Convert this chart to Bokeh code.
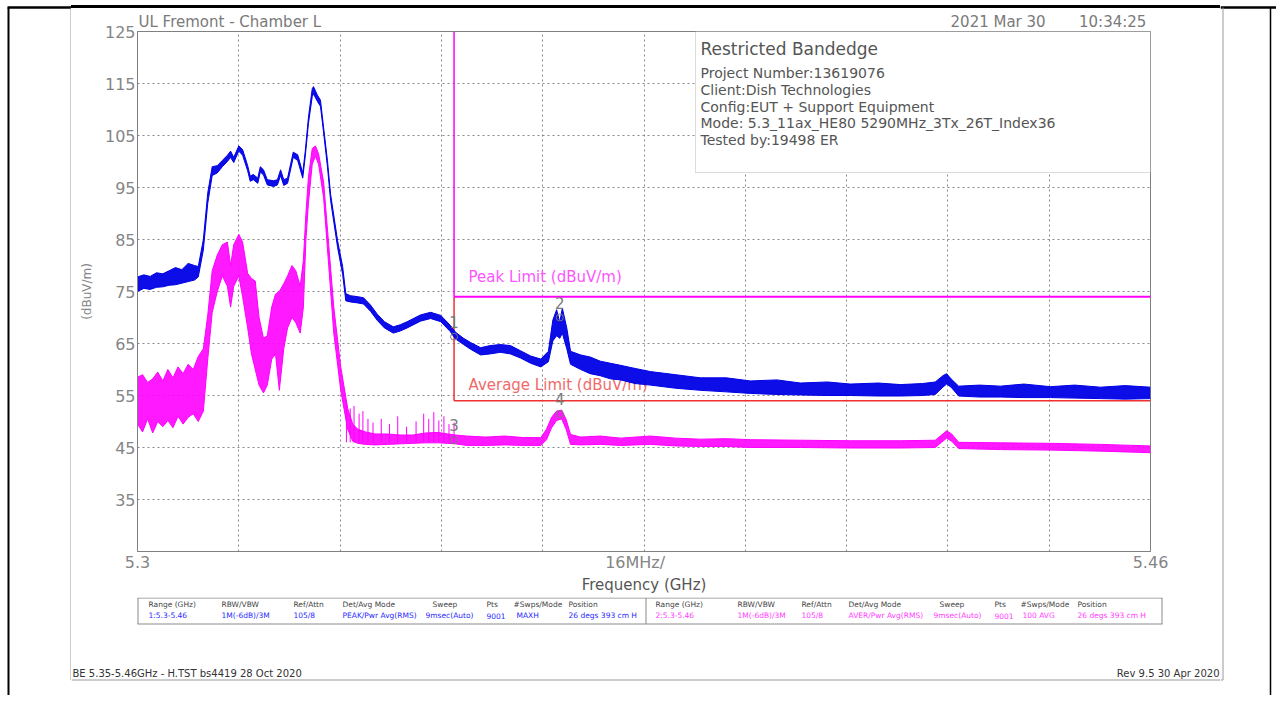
from bokeh.plotting import figure
from bokeh.models import Range1d, FixedTicker, Label, PolyAnnotation, Div
from bokeh.core.properties import value
from bokeh.layouts import column, row
from bokeh.embed import file_html
from bokeh.resources import INLINE

FONT = "DejaVu Sans"

# ---------------- data ----------------
# Peak trace (blue): frequency (GHz) with lower / upper edge of the noisy trace (dBuV/m)
peak_freq = [5.3000, 5.3010, 5.3020, 5.3030, 5.3040, 5.3050, 5.3060, 5.3070, 5.3080, 5.3090,
             5.3096, 5.3104, 5.3111, 5.3118, 5.3126, 5.3134, 5.3142, 5.3147, 5.3152, 5.3160,
             5.3166, 5.3174, 5.3178, 5.3183, 5.3190, 5.3194, 5.3199, 5.3205, 5.3215, 5.3221,
             5.3226, 5.3231, 5.3237, 5.3246, 5.3253, 5.3261, 5.3265, 5.3270, 5.3276, 5.3278,
             5.3284, 5.3289, 5.3294, 5.3300, 5.3305, 5.3316, 5.3324, 5.3329, 5.3336, 5.3348,
             5.3357, 5.3368, 5.3379, 5.3390, 5.3404, 5.3415, 5.3426, 5.3447, 5.3463, 5.3479,
             5.3494, 5.3502, 5.3515, 5.3526, 5.3542, 5.3557, 5.3573, 5.3589, 5.3605, 5.3621,
             5.3637, 5.3649, 5.3656, 5.3662, 5.3667, 5.3671, 5.3678, 5.3684, 5.3700, 5.3715,
             5.3731, 5.3747, 5.3763, 5.3786, 5.3810, 5.3850, 5.3889, 5.3930, 5.3968, 5.4010,
             5.4047, 5.4090, 5.4126, 5.4170, 5.4205, 5.4240, 5.4260, 5.4272, 5.4278, 5.4285,
             5.4297, 5.4330, 5.4363, 5.4400, 5.4442, 5.4480, 5.4521, 5.4560, 5.4600]
peak_low = [75.0, 75.6, 75.4, 75.8, 75.9, 76.2, 76.3, 76.6, 76.9, 77.2,
            77.8, 83.0, 92.0, 97.3, 97.8, 99.0, 100.0, 100.8, 99.8, 102.0,
            101.2, 98.2, 96.2, 96.5, 95.8, 98.0, 97.4, 95.5, 95.2, 95.5,
            97.3, 95.4, 95.8, 100.8, 100.2, 96.8, 101.0, 107.3, 112.5, 113.0,
            111.6, 110.6, 105.5, 99.0, 92.5, 83.5, 78.3, 73.2, 73.0, 72.8,
            72.6, 71.2, 69.4, 68.0, 67.0, 67.4, 68.0, 69.3, 69.8, 69.2,
            67.3, 65.9, 64.8, 63.9, 62.8, 63.0, 63.3, 63.0, 62.2, 61.2,
            60.5, 61.5, 65.5, 66.5, 66.0, 67.0, 64.0, 61.0, 60.0, 59.2,
            58.8, 58.2, 58.0, 57.3, 57.0, 56.4, 56.0, 55.7, 55.4, 55.2,
            55.1, 55.0, 55.0, 54.9, 54.9, 55.0, 55.2, 56.6, 57.2, 56.6,
            54.9, 54.7, 54.7, 54.6, 54.6, 54.5, 54.4, 54.3, 54.4]
peak_high = [77.8, 78.2, 77.9, 78.6, 78.4, 79.0, 79.6, 79.2, 80.4, 80.0,
             79.8, 85.0, 94.0, 99.0, 99.2, 100.2, 101.2, 102.0, 100.8, 103.0,
             102.3, 99.2, 97.2, 97.5, 96.8, 99.0, 98.4, 96.5, 96.3, 96.5,
             98.4, 96.5, 96.8, 101.8, 101.3, 97.8, 102.0, 108.5, 114.0, 114.4,
             112.8, 111.8, 106.5, 100.2, 93.7, 84.8, 79.8, 74.6, 74.2, 74.0,
             73.8, 72.4, 70.6, 69.2, 68.2, 68.6, 69.2, 70.5, 71.0, 70.4,
             68.5, 67.2, 66.0, 65.2, 64.2, 64.6, 64.8, 64.6, 63.6, 62.6,
             62.0, 63.5, 69.5, 71.5, 69.0, 71.8, 68.0, 63.5, 62.8, 62.4,
             61.6, 61.2, 60.8, 60.2, 59.6, 59.0, 58.4, 58.4, 57.8, 58.0,
             57.4, 57.6, 57.2, 57.4, 57.1, 57.3, 57.6, 58.8, 59.2, 58.2,
             56.8, 57.0, 56.8, 57.2, 56.7, 57.0, 56.6, 56.9, 56.6]

# Average trace (magenta)
avg_freq = [5.3000, 5.3008, 5.3016, 5.3024, 5.3032, 5.3040, 5.3048, 5.3056, 5.3064, 5.3072,
            5.3080, 5.3088, 5.3096, 5.3104, 5.3111, 5.3118, 5.3126, 5.3134, 5.3142, 5.3147,
            5.3152, 5.3160, 5.3166, 5.3174, 5.3180, 5.3186, 5.3192, 5.3199, 5.3205, 5.3212,
            5.3218, 5.3224, 5.3231, 5.3237, 5.3244, 5.3250, 5.3257, 5.3262, 5.3266, 5.3270,
            5.3276, 5.3281, 5.3286, 5.3294, 5.3302, 5.3310, 5.3321, 5.3332, 5.3340, 5.3348,
            5.3360, 5.3375, 5.3395, 5.3415, 5.3435, 5.3455, 5.3475, 5.3490, 5.3502, 5.3520,
            5.3550, 5.3580, 5.3610, 5.3637, 5.3646, 5.3654, 5.3662, 5.3670, 5.3677, 5.3684,
            5.3700, 5.3731, 5.3763, 5.3810, 5.3850, 5.3889, 5.3930, 5.3968, 5.4047, 5.4126,
            5.4205, 5.4260, 5.4270, 5.4278, 5.4286, 5.4297, 5.4363, 5.4442, 5.4521, 5.4600]
avg_low = [49.5, 48.0, 50.5, 47.8, 50.0, 49.0, 50.2, 48.8, 51.0, 49.5,
           50.8, 51.5, 50.0, 52.0, 62.0, 71.0, 75.0, 78.0, 76.0, 72.0,
           76.0, 78.0, 74.0, 68.0, 63.0, 60.0, 57.0, 55.5, 57.0, 62.0,
           63.0, 56.0, 64.0, 68.0, 70.0, 69.0, 67.0, 72.0, 85.0, 92.0,
           99.5, 101.0, 99.5, 93.0, 80.0, 67.0, 56.0, 48.5, 46.2, 45.8,
           45.6, 45.5, 45.6, 45.7, 45.8, 45.9, 45.9, 45.8, 45.7, 45.4,
           45.4, 45.5, 45.4, 45.4, 46.5, 48.8, 50.2, 50.5, 48.5, 45.6,
           45.5, 45.6, 45.4, 45.6, 45.3, 45.2, 45.2, 45.0, 45.0, 44.9,
           44.9, 45.0, 46.0, 46.8, 46.2, 44.8, 44.6, 44.5, 44.3, 44.0]
avg_high = [58.5, 59.0, 57.5, 58.2, 59.5, 57.8, 60.0, 58.4, 60.5, 59.2,
            61.0, 60.0, 62.5, 64.0, 70.5, 79.0, 82.0, 84.0, 84.5, 80.0,
            84.0, 86.0, 84.5, 78.5, 77.5, 77.0, 70.0, 66.0, 66.5, 72.0,
            74.5, 75.0, 76.5, 78.0, 80.0, 79.0, 76.0, 81.0, 90.0, 97.0,
            102.5, 103.0, 101.5, 96.0, 84.0, 72.0, 60.5, 52.5, 49.5, 48.5,
            48.0, 47.6, 47.6, 47.4, 47.4, 47.8, 47.9, 47.6, 47.4, 47.2,
            47.0, 47.2, 46.9, 46.9, 48.5, 50.8, 52.0, 52.2, 50.4, 47.5,
            47.0, 47.2, 46.8, 47.2, 46.8, 46.6, 46.7, 46.5, 46.4, 46.3,
            46.3, 46.4, 47.4, 48.2, 47.6, 46.0, 45.9, 45.8, 45.6, 45.3]

# Isolated spikes of the average trace just above the 5.35 GHz edge
avg_spike_freq = [5.3330, 5.3336, 5.3342, 5.3350, 5.3356, 5.3364, 5.3372, 5.3385, 5.3398, 5.3411,
                  5.3425, 5.3440, 5.3452, 5.3460, 5.3468, 5.3476, 5.3484, 5.3492, 5.3500]
avg_spike_base = [46.0, 46.0, 46.0, 46.0, 46.0, 46.0, 46.0, 46.0, 46.0, 46.0,
                  46.0, 46.0, 46.0, 46.0, 46.0, 46.0, 46.0, 46.0, 46.0]
avg_spike_top = [54.0, 52.5, 53.0, 51.5, 52.0, 50.5, 49.8, 50.5, 49.5, 51.0,
                 49.0, 50.0, 51.5, 50.5, 51.8, 50.2, 51.0, 49.5, 49.8]

# Limits
limit_freq = [5.35, 5.46]
peak_limit = [74, 74]
avg_limit = [54, 54]
edge_freq = [5.35, 5.35]
edge_peak_span = [125, 74]
edge_avg_span = [74, 54]

# Markers
marker_ids = ["1", "2", "3", "4"]
marker_freq = [5.35, 5.3667, 5.35, 5.3667]
marker_level = [66.3, 70.0, 46.4, 51.4]

# Axes
y_tick_values = [35, 45, 55, 65, 75, 85, 95, 105, 115, 125]
x_tick_values = [5.3, 5.3786, 5.46]
x_tick_labels = {5.3: "5.3", 5.3786: "16MHz/", 5.46: "5.46"}
x_grid_values = [5.316, 5.332, 5.348, 5.364, 5.38, 5.396, 5.412, 5.428, 5.444]

# Header texts
title_text = "UL Fremont - Chamber L"
date_text = "2021 Mar 30"
time_text = "10:34:25"

# ---------------- page geometry (pixels) ----------------
PAGE_W, PAGE_H = 1276, 695
LEFT_W = 71          # left strip x 0..71
RIGHT_X = 1220       # right strip x 1220..PAGE_W
TOPLINE_H = 10       # thin strip with the top black rule
MID_B = 597          # main chart y TOPLINE_H..597
FX0, FX1 = 137, 1150
FY0, FY1 = 31, 551
XMIN, XMAX = 5.3, 5.46
YMIN, YMAX = 25, 125
GRAY_FRAME = "#9a9a9a"


def dx(px):
    return XMIN + (px - FX0) * (XMAX - XMIN) / (FX1 - FX0)


def dy(py):
    return YMAX - (py - FY0) * (YMAX - YMIN) / (FY1 - FY0)


def strip(x0, x1, y0, y1):
    f = figure(width=x1 - x0, height=y1 - y0, x_range=Range1d(x0, x1), y_range=Range1d(y1, y0),
               x_axis_type=None, y_axis_type=None, title=None, output_backend="svg",
               toolbar_location=None, min_border=0)
    f.outline_line_color = None
    f.background_fill_color = "white"
    f.border_fill_color = "white"
    return f


def txt(f, px, py, text, size, color, align="left"):
    f.text(x=[px], y=[py], text=[text], text_font=value(FONT), text_font_size=f"{size}px",
           text_color=color, text_align=align, text_baseline="middle")


def ln(f, x0, y0, x1, y1, color, width=1):
    f.line(x=[x0, x1], y=[y0, y1], line_color=color, line_width=width)


# ---------------- main chart ----------------
NB = "\u00a0"
header = title_text + NB * 132 + date_text + NB * 7 + time_text
p = figure(width=RIGHT_X - LEFT_W, height=MID_B - TOPLINE_H,
           x_range=Range1d(XMIN, XMAX), y_range=Range1d(YMIN, YMAX),
           title=header, output_backend="svg", toolbar_location=None, min_border=0,
           min_border_left=FX0 - LEFT_W, min_border_right=RIGHT_X - FX1,
           min_border_top=FY0 - TOPLINE_H, min_border_bottom=MID_B - FY1)
p.title.align = "left"
p.title.offset = 1
p.title.standoff = 1
p.title.text_font = FONT
p.title.text_font_size = "15px"
p.title.text_font_style = "normal"
p.title.text_color = "#7a7a7a"
p.background_fill_color = "white"
p.border_fill_color = "white"
p.outline_line_color = "#808080"

GRAY = "#858585"
p.xaxis.ticker = FixedTicker(ticks=x_tick_values)
p.xaxis.major_label_overrides = x_tick_labels
p.yaxis.ticker = FixedTicker(ticks=y_tick_values)
for ax in (p.xaxis[0], p.yaxis[0]):
    ax.major_tick_line_color = None
    ax.minor_tick_line_color = None
    ax.major_tick_out = 0
    ax.major_tick_in = 0
    ax.minor_tick_out = 0
    ax.axis_line_color = "#808080"
    ax.major_label_text_font = FONT
    ax.major_label_text_color = GRAY
    ax.major_label_standoff = 1
    ax.axis_label_text_font = FONT
    ax.axis_label_text_font_style = "normal"
p.xaxis.major_label_text_font_size = "16px"
p.yaxis.major_label_text_font_size = "16px"
p.yaxis.major_label_standoff = 2
p.xaxis.axis_label = "Frequency (GHz)"
p.xaxis.axis_label_text_font_size = "15px"
p.xaxis.axis_label_text_color = "#555555"
p.xaxis.axis_label_standoff = 1
p.yaxis.axis_label = "(dBuV/m)"
p.yaxis.axis_label_text_font_size = "12px"
p.yaxis.axis_label_text_color = GRAY
p.yaxis.axis_label_standoff = 8

p.xgrid.ticker = FixedTicker(ticks=x_grid_values)
p.ygrid.ticker = FixedTicker(ticks=y_tick_values)
for g in (p.xgrid[0], p.ygrid[0]):
    g.grid_line_color = "#8a8a8a"
    g.grid_line_dash = "2 3"
    g.grid_line_width = 1

MAG = "#ff00ff"
BLUE = "#0000e6"
RED = "#f03030"

p.line(limit_freq, avg_limit, line_color=RED, line_width=1.5)
p.line(edge_freq, edge_avg_span, line_color=RED, line_width=1.5)
p.text(x=[dx(468)], y=[dy(384)], text=["Average Limit (dBuV/m)"], text_font=value(FONT),
       text_font_size="15px", text_color="#f06a6a", text_baseline="middle", text_align="left")
p.text(x=[dx(468)], y=[dy(276)], text=["Peak Limit (dBuV/m)"], text_font=value(FONT),
       text_font_size="15px", text_color="#ff55ff", text_baseline="middle", text_align="left")

p.varea(x=avg_freq, y1=avg_low, y2=avg_high, fill_color=MAG, fill_alpha=0.9)
p.line(avg_freq, avg_low, line_color=MAG, line_width=1)
p.line(avg_freq, avg_high, line_color=MAG, line_width=1)
p.segment(x0=avg_spike_freq, y0=avg_spike_base, x1=avg_spike_freq, y1=avg_spike_top,
          line_color=MAG, line_width=1)

p.varea(x=peak_freq, y1=peak_low, y2=peak_high, fill_color=BLUE, fill_alpha=0.95)
p.line(peak_freq, peak_low, line_color=BLUE, line_width=1)
p.line(peak_freq, peak_high, line_color=BLUE, line_width=1)

p.line(limit_freq, peak_limit, line_color=MAG, line_width=2)
p.line(edge_freq, edge_peak_span, line_color=MAG, line_width=1.5)

p.scatter(marker_freq, marker_level, marker="circle", size=7, fill_color=None,
          line_color="#7a7a7a", line_width=1)
p.text(x=marker_freq, y=marker_level, text=marker_ids, y_offset=-15, text_font=value(FONT),
       text_font_size="15px", text_color="#7a7a7a", text_align="center", text_baseline="middle")

# info box (inside the frame)
p.add_layout(PolyAnnotation(xs=[dx(695), dx(1150), dx(1150), dx(695)],
                            ys=[dy(31), dy(31), dy(172), dy(172)],
                            fill_color="white", fill_alpha=1, line_color="#8a8a8a", line_width=1))
INFO = "#555555"


def info(py, text, size):
    p.add_layout(Label(x=dx(700), y=dy(py), text=text, text_font=FONT,
                       text_font_size=f"{size}px", text_color=INFO, text_baseline="middle"))


info(48, "Restricted Bandedge", 17)
info(72, "Project Number:13619076", 14)
info(89, "Client:Dish Technologies", 14)
info(106, "Config:EUT + Support Equipment", 14)
info(122, "Mode: 5.3_11ax_HE80 5290MHz_3Tx_26T_Index36", 14)
info(139, "Tested by:19498 ER", 14)

# ---------------- frame strips ----------------
cw = RIGHT_X - LEFT_W
topline = Div(width=cw, height=TOPLINE_H, margin=0,
              styles={"padding": "0px", "line-height": "0px", "font-size": "0px"},
              text=(f'<div style="width:{cw}px;height:5px;margin:0;padding:0;background:#fff;"></div>'
                    f'<div style="width:{cw}px;height:3px;margin:0;padding:0;background:#000;"></div>'))

left = strip(0, LEFT_W, 0, PAGE_H)
ln(left, 7, 7, LEFT_W, 7, "black", 2.5)
ln(left, 8, 7, 8, PAGE_H, "black", 2)
ln(left, 70.5, 7, 70.5, 679.5, GRAY_FRAME)
ln(left, 70.5, 679.5, LEFT_W, 679.5, GRAY_FRAME)

right = strip(RIGHT_X, PAGE_W, 0, PAGE_H)
ln(right, RIGHT_X, 7, PAGE_W, 7, "black", 2.5)
ln(right, 1222.5, 7, 1222.5, 679.5, GRAY_FRAME)
ln(right, RIGHT_X, 679.5, 1222.5, 679.5, GRAY_FRAME)
ln(right, 1270, 7, 1270, PAGE_H, "black", 1.5)

# ---------------- bottom strip: settings table and footer ----------------
bot = strip(LEFT_W, RIGHT_X, MID_B, PAGE_H)
ln(bot, LEFT_W, 679.5, RIGHT_X, 679.5, GRAY_FRAME)

TB = "#8a8a8a"
TT, TBm = 597.5, 623.5
ln(bot, 137, TT, 1162, TT, TB)
ln(bot, 137, TBm, 1162, TBm, TB)
ln(bot, 137.5, TT, 137.5, TBm, TB)
ln(bot, 1161.5, TT, 1161.5, TBm, TB)
ln(bot, 645.5, TT, 645.5, TBm, TB)

HDR = "#444444"
heads = ["Range (GHz)", "RBW/VBW", "Ref/Attn", "Det/Avg Mode", "Sweep", "Pts", "#Swps/Mode", "Position"]
left_x = [148, 221, 293, 342, 432, 486, 513, 568]
left_vals = ["1:5.3-5.46", "1M(-6dB)/3M", "105/8", "PEAK/Pwr Avg(RMS)", "9msec(Auto)", "9001",
             "MAXH", "26 degs 393 cm H"]
left_vx = [148, 221, 293, 342, 425, 486, 516, 568]
right_x = [655, 737, 801, 848, 939, 994, 1020, 1077]
right_vals = ["2:5.3-5.46", "1M(-6dB)/3M", "105/8", "AVER/Pwr Avg(RMS)", "9msec(Auto)", "9001",
              "100 AVG", "26 degs 393 cm H"]
right_vx = [655, 737, 801, 848, 933, 994, 1022, 1077]
for hx, h in zip(left_x, heads):
    txt(bot, hx, 604, h, 7.5, HDR)
for vx, v in zip(left_vx, left_vals):
    txt(bot, vx, 615, v, 7.5, "#2a2aff")
for hx, h in zip(right_x, heads):
    txt(bot, hx, 604, h, 7.5, HDR)
for vx, v in zip(right_vx, right_vals):
    txt(bot, vx, 615, v, 7.5, "#ff3cff")

txt(bot, 72, 673, "BE 5.35-5.46GHz - H.TST bs4419 28 Oct 2020", 10, "#333333")
txt(bot, 1219, 673, "Rev 9.5 30 Apr 2020", 10, "#333333", "right")

center = column(topline, p, column(bot))
layout = row(column(left), center, column(right))
open("out.html", "w").write(file_html(layout, INLINE))
